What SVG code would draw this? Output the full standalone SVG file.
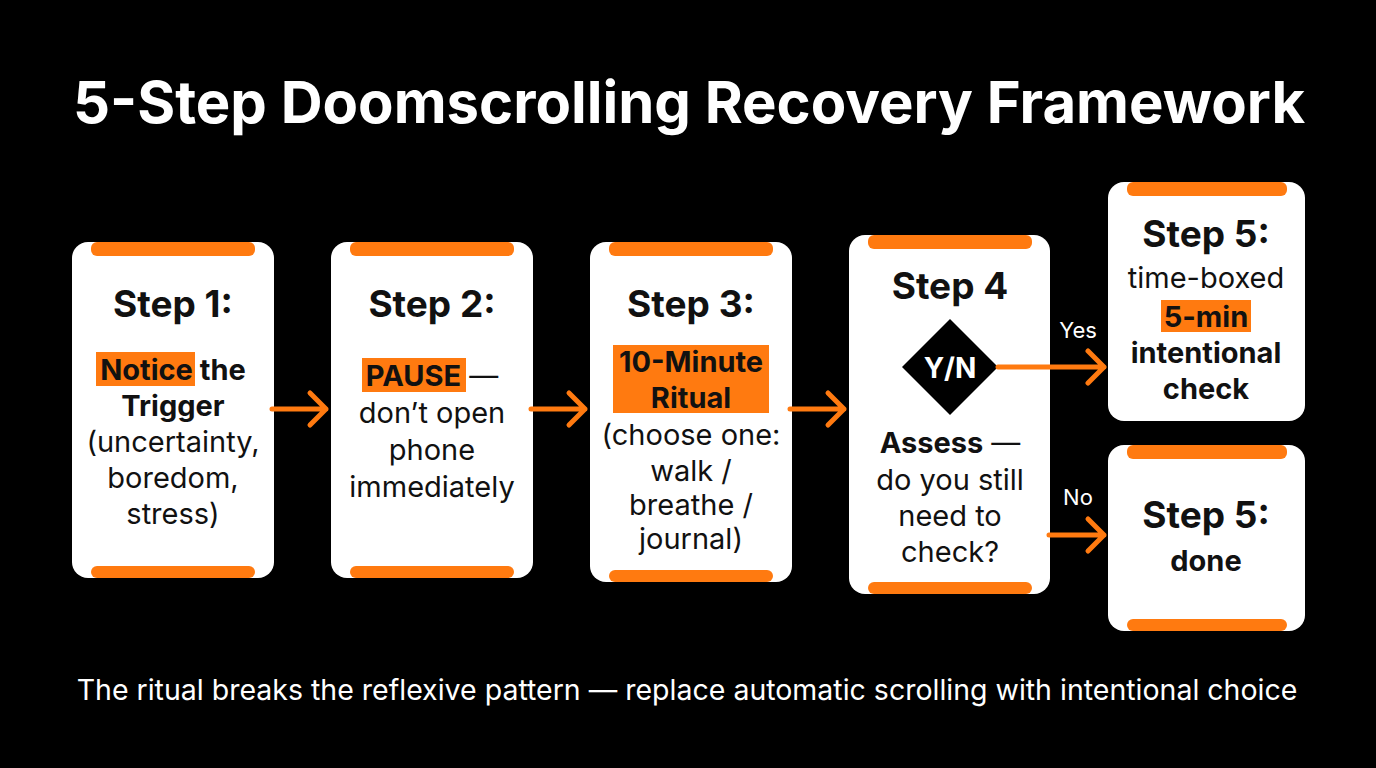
<svg xmlns="http://www.w3.org/2000/svg" width="1376" height="768" viewBox="0 0 1376 768">
<style>
text{font-family:Inter,"Liberation Sans",sans-serif;fill:#111;text-anchor:middle}
.card{fill:#fff}
.bar{fill:#ff7a10}
.t{font-size:37px;font-weight:700}
.b{font-size:29px}
.bb{font-size:29px;font-weight:700}
.hl{fill:#ff7a10}
.c{stroke:#ff7a10;stroke-width:5;fill:none;stroke-linecap:round;stroke-linejoin:round}
.lab{fill:#fff;font-size:22px}
</style>
<rect width="1376" height="768" fill="#000"/>
<text x="689" y="123" style="fill:#fff;font-size:58px;font-weight:700">5-Step Doomscrolling Recovery Framework</text>
<g id="step1">
<rect class="card" x="72" y="242" width="202" height="336" rx="16"/>
<rect class="bar" x="91" y="242" width="164" height="14" rx="6"/>
<rect class="bar" x="91" y="566" width="164" height="12" rx="6"/>
<text class="t" x="173" y="317">Step 1:</text>
<rect class="hl" x="96" y="352" width="99" height="34"/>
<text class="bb" x="173" y="380">Notice the</text>
<text class="bb" x="173" y="416">Trigger</text>
<text class="b" x="173" y="452">(uncertainty,</text>
<text class="b" x="173" y="488">boredom,</text>
<text class="b" x="173" y="524">stress)</text>
</g>
<g id="step2">
<rect class="card" x="331" y="242" width="202" height="336" rx="16"/>
<rect class="bar" x="350" y="242" width="164" height="14" rx="6"/>
<rect class="bar" x="350" y="566" width="164" height="12" rx="6"/>
<text class="t" x="432" y="317">Step 2:</text>
<rect class="hl" x="362" y="358" width="104" height="34"/>
<text class="bb" x="432" y="386"><tspan>PAUSE</tspan><tspan style="font-weight:400"> —</tspan></text>
<text class="b" x="432" y="423">don’t open</text>
<text class="b" x="432" y="460">phone</text>
<text class="b" x="432" y="497">immediately</text>
</g>
<g id="step3">
<rect class="card" x="590" y="242" width="202" height="340" rx="16"/>
<rect class="bar" x="609" y="242" width="164" height="14" rx="6"/>
<rect class="bar" x="609" y="570" width="164" height="12" rx="6"/>
<text class="t" x="691" y="317">Step 3:</text>
<rect class="hl" x="613" y="345" width="156" height="68"/>
<text class="bb" x="691" y="372">10-Minute</text>
<text class="bb" x="691" y="408">Ritual</text>
<text class="b" x="691" y="445">(choose one:</text>
<text class="b" x="691" y="481">walk /</text>
<text class="b" x="691" y="515">breathe /</text>
<text class="b" x="691" y="549">journal)</text>
</g>
<g id="step4">
<rect class="card" x="849" y="235" width="201" height="359" rx="16"/>
<rect class="bar" x="868" y="235" width="164" height="14" rx="6"/>
<rect class="bar" x="868" y="582" width="164" height="12" rx="6"/>
<text class="t" x="950" y="299">Step 4</text>
<polygon points="950,319 998,367 950,415 902,367" fill="#000"/>
<text x="950" y="378" style="fill:#fff;font-size:28px;font-weight:700">Y/N</text>
<text class="bb" x="950" y="453"><tspan>Assess</tspan><tspan style="font-weight:400"> —</tspan></text>
<text class="b" x="950" y="490">do you still</text>
<text class="b" x="950" y="526">need to</text>
<text class="b" x="950" y="562">check?</text>
</g>
<g id="step5yes">
<rect class="card" x="1108" y="182" width="197" height="239" rx="16"/>
<rect class="bar" x="1127" y="182" width="160" height="14" rx="6"/>
<text class="t" x="1206" y="247">Step 5:</text>
<text class="b" x="1206" y="288">time-boxed</text>
<rect class="hl" x="1161" y="300" width="90" height="32"/>
<text class="bb" x="1206" y="327">5-min</text>
<text class="bb" x="1206" y="363">intentional</text>
<text class="bb" x="1206" y="399">check</text>
</g>
<g id="step5no">
<rect class="card" x="1108" y="445" width="197" height="186" rx="16"/>
<rect class="bar" x="1127" y="445" width="160" height="14" rx="6"/>
<rect class="bar" x="1127" y="619" width="160" height="12" rx="6"/>
<text class="t" x="1206" y="528">Step 5:</text>
<text class="bb" x="1206" y="571">done</text>
</g>
<g id="connectors">
<path class="c" d="M272 409H326M310 393L326 409L310 425"/>
<path class="c" d="M531 409H585M569 393L585 409L569 425"/>
<path class="c" d="M790 409H844M828 393L844 409L828 425"/>
<path class="c" d="M998 367H1104M1088 351L1104 367L1088 383"/>
<path class="c" d="M1049 535H1104M1088 519L1104 535L1088 551"/>
<text class="lab" x="1078" y="338">Yes</text>
<text class="lab" x="1078" y="505">No</text>
</g>
<text x="687" y="700" style="fill:#fff;font-size:28.5px">The ritual breaks the reflexive pattern — replace automatic scrolling with intentional choice</text>
</svg>
